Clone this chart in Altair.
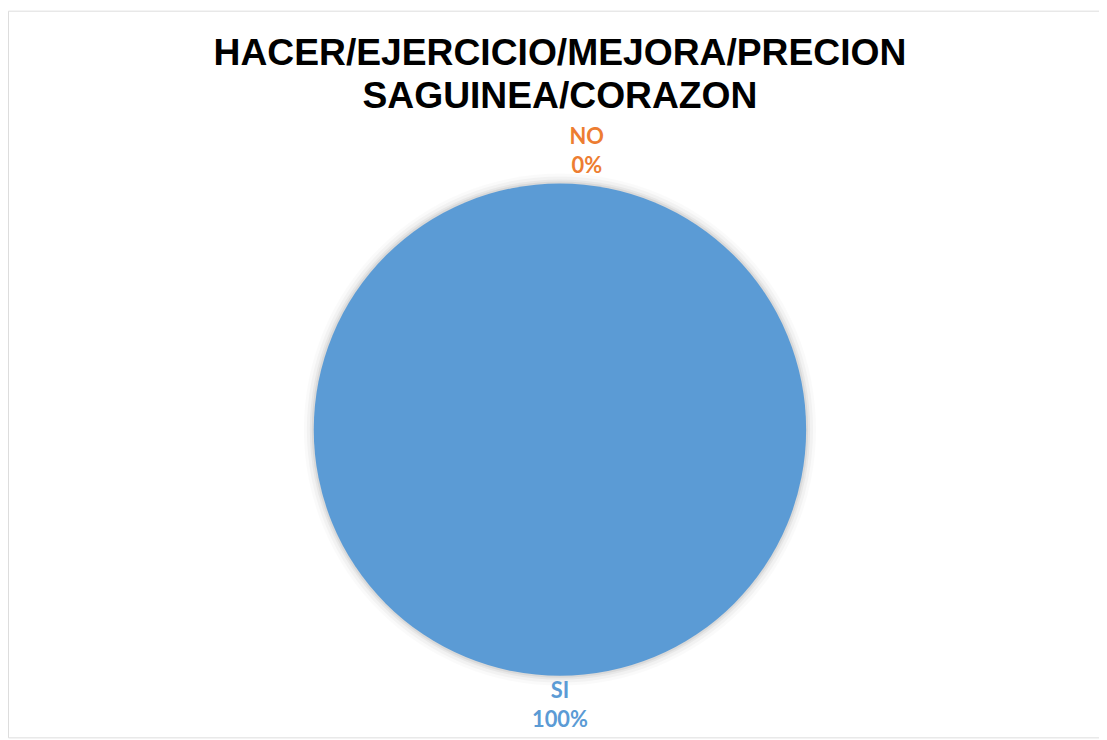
import altair as alt
import pandas as pd

categories = ["SI", "NO"]
values = [100, 0]
pct_labels = ["100%", "0%"]
colors = ["#5B9BD5", "#ED7D31"]
title_lines = ["HACER/EJERCICIO/MEJORA/PRECION", "SAGUINEA/CORAZON"]

df = pd.DataFrame({
    "cat": categories,
    "val": values,
    "pct": pct_labels,
    "order": list(range(len(categories))),
})

CX, CY = 556, 422
base = alt.Chart(df).encode(
    theta=alt.Theta("val:Q", stack=True),
    order=alt.Order("order:Q"),
    x=alt.value(CX),
    y=alt.value(CY),
)

color = alt.Color("cat:N", scale=alt.Scale(domain=categories, range=colors), legend=None)

shadows = [
    base.mark_arc(radius=r, fill="#000000", opacity=o, stroke=None)
    for r, o in [(258, 0.02), (255, 0.03), (252, 0.045), (250, 0.06)]
]

pie = base.mark_arc(radius=248, stroke=None).encode(color=color)


def label(field, cat, radius, dx=0):
    return base.mark_text(
        radius=radius, fontSize=22, font="Lato", fontWeight="bold",
        baseline="middle", align="center", dx=dx
    ).encode(text=f"{field}:N", color=color).transform_filter(alt.datum.cat == cat)


labels = [
    label("cat", "SI", 263),
    label("pct", "SI", 293),
    label("cat", "NO", 295, 27),
    label("pct", "NO", 265, 27),
]

tdf = pd.DataFrame({"t": title_lines, "i": [0, 1]})
title = alt.Chart(tdf).mark_text(
    font="Liberation Sans, Arial", fontWeight="bold", fontSize=37.5,
    color="#000000", align="center", baseline="alphabetic"
).encode(
    text="t:N",
    x=alt.value(CX),
    y=alt.Y("i:Q", scale=alt.Scale(domain=[0, 1], range=[55, 98]), axis=None),
)

chart = alt.layer(*shadows, pie, *labels, title).properties(
    width=1099, height=732,
    autosize=alt.AutoSizeParams(type="none"),
    padding=0,
).configure_view(stroke="#D9D9D9", strokeWidth=2).configure(background="white")

chart.save("out.html", embed_options={"renderer": "svg", "actions": False})
